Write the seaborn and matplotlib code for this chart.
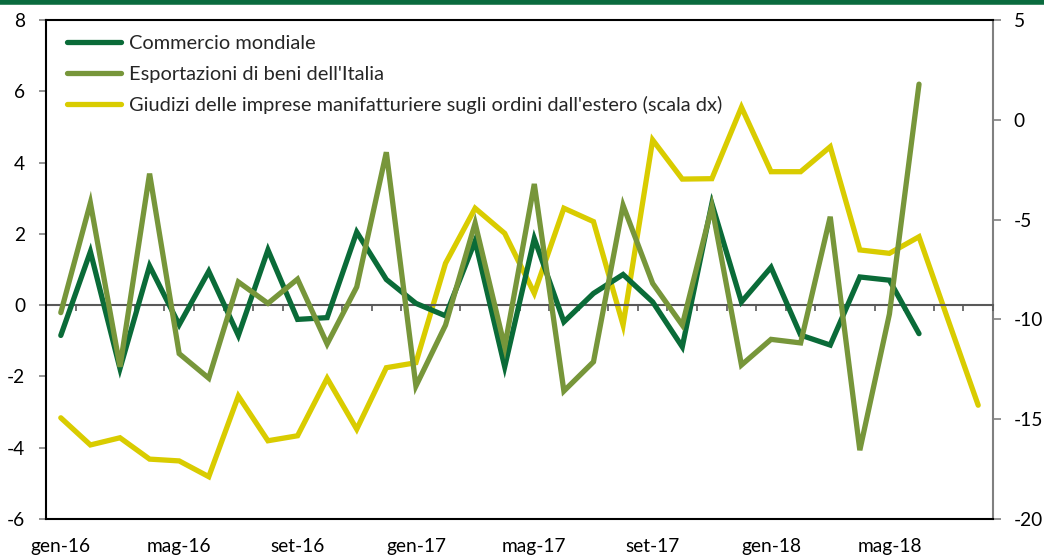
import matplotlib
matplotlib.use("Agg")
import matplotlib.pyplot as plt
import seaborn as sns
import pandas as pd
import numpy as np

# dati mensili gen-16 ... ago-18
months = ["gen", "feb", "mar", "apr", "mag", "giu", "lug", "ago", "set", "ott", "nov", "dic"]
periods = [f"{m}-{y}" for y in ("16", "17", "18") for m in months][:32]

commercio = [-0.85, 1.5, -1.78, 1.1, -0.55, 0.95, -0.85, 1.55, -0.4, -0.35,
             2.05, 0.72, 0.05, -0.3, 1.8, -1.73, 1.87, -0.47, 0.33, 0.86,
             0.09, -1.17, 2.85, 0.09, 1.06, -0.84, -1.12, 0.79, 0.70, -0.8]
export_ita = [-0.21, 2.87, -1.73, 3.69, -1.36, -2.05, 0.65, 0.05, 0.73, -1.09,
              0.51, 4.29, -2.27, -0.56, 2.3, -1.17, 3.4, -2.41, -1.59, 2.8,
              0.61, -0.56, 2.76, -1.68, -0.96, -1.06, 2.48, -4.07, -0.25, 6.2]
giudizi = [-14.93, -16.29, -15.93, -17.0, -17.09, -17.88, -13.84, -16.08, -15.83, -12.95,
           -15.5, -12.42, -12.17, -7.19, -4.43, -5.69, -8.69, -4.43, -5.1, -10.28,
           -1.01, -2.97, -2.95, 0.63, -2.6, -2.6, -1.35, -6.52, -6.69, -5.86,
           -10.1, -14.3]

labels = ["Commercio mondiale",
          "Esportazioni di beni dell'Italia",
          "Giudizi delle imprese manifatturiere sugli ordini dall'estero (scala dx)"]
colors = ["#0A6B38", "#77963A", "#D9CC00"]

df_left = pd.DataFrame({"x": np.arange(len(commercio)), "v": commercio})
df_exp = pd.DataFrame({"x": np.arange(len(export_ita)), "v": export_ita})
df_right = pd.DataFrame({"x": np.arange(len(giudizi)), "v": giudizi})

sns.set_style("white")
plt.rcParams["font.family"] = ["Lato", "DejaVu Sans"]
plt.rcParams["axes.unicode_minus"] = False

fig = plt.figure(figsize=(10.44, 5.56), dpi=100)
ax = fig.add_axes([46 / 1044, 37 / 556, 947 / 1044, 499 / 556])
ax2 = ax.twinx()

lw = 3.8
sns.lineplot(data=df_left, x="x", y="v", ax=ax, color=colors[0], linewidth=lw,
             label=labels[0], legend=False, solid_capstyle="round", solid_joinstyle="miter")
sns.lineplot(data=df_exp, x="x", y="v", ax=ax, color=colors[1], linewidth=lw,
             label=labels[1], legend=False, solid_capstyle="round", solid_joinstyle="miter")
sns.lineplot(data=df_right, x="x", y="v", ax=ax2, color=colors[2], linewidth=lw,
             label=labels[2], legend=False, solid_capstyle="round", solid_joinstyle="miter")

n = len(periods)
ax.set_xlim(-0.5, n - 0.5)
ax.set_ylim(-6, 8)
ax.set_yticks(range(-6, 9, 2))
ax2.set_ylim(-20, 5)
ax2.set_yticks(range(-20, 6, 5))
ax.set_xticks(range(0, n, 4))
ax.set_xticklabels(periods[::4])
ax.set_xlabel("")
ax.set_ylabel("")
ax2.set_ylabel("")

fs = 13.8
ax.tick_params(axis="x", length=0, pad=14, labelsize=fs, colors="black")
ax.tick_params(axis="y", direction="out", length=5, width=1.2, color="#808080",
               pad=10, labelsize=fs, labelcolor="black", left=True)
ax2.tick_params(axis="y", direction="out", length=6, width=1.2, color="#808080",
                pad=9, labelsize=fs, labelcolor="black", right=True)

for side in ["left", "top", "bottom"]:
    ax.spines[side].set_color("black")
    ax.spines[side].set_linewidth(1.5)
    ax2.spines[side].set_visible(False)
ax.spines["right"].set_visible(False)
ax2.spines["right"].set_color("#808080")
ax2.spines["right"].set_linewidth(1.5)

# asse delle categorie sullo zero
zero_pos = (0 - (-6)) / 14
zax = ax.secondary_xaxis(zero_pos)
zax.set_xticks(np.arange(-0.5, n, 1.0))
zax.tick_params(axis="x", direction="out", length=4, width=1.2, color="#595959",
                labelbottom=False, labeltop=False)
zax.spines["bottom"].set_color("#595959")
zax.spines["bottom"].set_linewidth(1.5)
zax.set_zorder(0)
ax.set_zorder(ax2.get_zorder() + 1)
ax.patch.set_visible(False)

h1, l1 = ax.get_legend_handles_labels()
h2, l2 = ax2.get_legend_handles_labels()
ax.legend(h1 + h2, l1 + l2, loc="upper left", bbox_to_anchor=(0.022, 0.97),
          frameon=False, fontsize=14.4, borderpad=0, borderaxespad=0,
          handlelength=2.7, handletextpad=0.4, labelspacing=0.68)

# barra verde in alto
fig.add_artist(plt.Line2D([0, 1], [0.996, 0.996], color="#0A6B3E", linewidth=4,
                          transform=fig.transFigure))

fig.savefig("out.png", dpi=100)
